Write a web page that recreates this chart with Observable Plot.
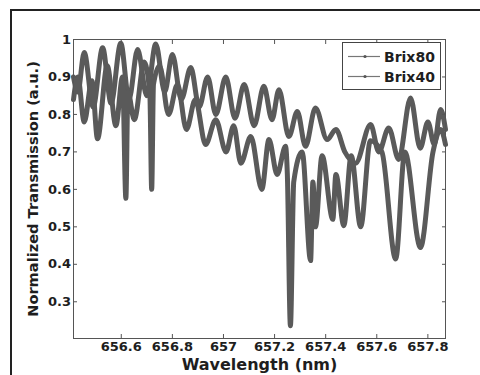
<!DOCTYPE html>
<html>
<head>
<meta charset="utf-8">
<script src="https://cdn.jsdelivr.net/npm/d3@7"></script>
<script src="https://cdn.jsdelivr.net/npm/@observablehq/plot@0.6"></script>
<style>
  html, body { margin: 0; padding: 0; background: #fff; overflow: hidden; }
  #wrap { position: relative; width: 480px; height: 375px; overflow: hidden; }
  #outer { position: absolute; left: 10px; top: 9px; width: 520px; height: 420px; border-left: 2px solid #222; border-top: 2px solid #222; pointer-events: none; }
  #legend { position: absolute; left: 342px; top: 42px; }
</style>
</head>
<body>
<div id="wrap">
  <div id="chart"></div>
  <div id="outer"></div>
  <div id="legend"></div>
</div>
<script>
// Series names (legend)
const seriesNames = ["Brix80", "Brix40"];

// Brix80: wavelength (nm) and normalized transmission
const brix80Wl = [656.413, 656.43, 656.455, 656.49, 656.527, 656.56, 656.598, 656.63, 656.664, 656.70,
  656.735, 656.77, 656.80, 656.835, 656.872, 656.905, 656.938, 656.97, 657.009, 657.045,
  657.081, 657.12, 657.158, 657.19, 657.217, 657.256, 657.289, 657.321, 657.36, 657.406,
  657.44, 657.475, 657.517, 657.576, 657.608, 657.647, 657.686, 657.732, 657.77, 657.80,
  657.825, 657.85, 657.869];
const brix80T = [0.90, 0.86, 0.965, 0.82, 0.978, 0.83, 0.99, 0.84, 0.973, 0.85,
  0.988, 0.86, 0.96, 0.84, 0.925, 0.82, 0.90, 0.80, 0.90, 0.79,
  0.88, 0.77, 0.875, 0.786, 0.866, 0.741, 0.808, 0.715, 0.817, 0.733,
  0.76, 0.70, 0.67, 0.773, 0.70, 0.764, 0.68, 0.844, 0.71, 0.78,
  0.72, 0.813, 0.76];

// Brix40: wavelength (nm) and normalized transmission
const brix40Wl = [656.413, 656.43, 656.455, 656.485, 656.507, 656.545, 656.579, 656.605, 656.618, 656.626,
  656.651, 656.69, 656.712, 656.719, 656.726, 656.75, 656.785, 656.82, 656.855, 656.89,
  656.93, 656.97, 657.01, 657.04, 657.068, 657.107, 657.15, 657.178, 657.21, 657.243,
  657.25, 657.262, 657.275, 657.308, 657.341, 657.35, 657.36, 657.386, 657.428, 657.44,
  657.471, 657.50, 657.537, 657.575, 657.62, 657.674, 657.71, 657.771, 657.82, 657.85,
  657.869];
const brix40T = [0.84, 0.90, 0.78, 0.89, 0.735, 0.93, 0.77, 0.90, 0.576, 0.86,
  0.786, 0.94, 0.85, 0.60, 0.88, 0.93, 0.80, 0.88, 0.76, 0.84,
  0.72, 0.786, 0.70, 0.77, 0.67, 0.741, 0.60, 0.733, 0.64, 0.715,
  0.64, 0.236, 0.62, 0.70, 0.41, 0.62, 0.50, 0.69, 0.52, 0.64,
  0.503, 0.69, 0.50, 0.73, 0.70, 0.414, 0.70, 0.445, 0.70, 0.76,
  0.72];

// Axis ticks and labels
const xTicks = [656.6, 656.8, 657.0, 657.2, 657.4, 657.6, 657.8];
const xTickLabels = ["656.6", "656.8", "657", "657.2", "657.4", "657.6", "657.8"];
const yTicks = [0.3, 0.4, 0.5, 0.6, 0.7, 0.8, 0.9, 1.0];
const yTickLabels = ["0.3", "0.4", "0.5", "0.6", "0.7", "0.8", "0.9", "1"];
const xTitle = "Wavelength (nm)";
const yTitle = "Normalized Transmission (a.u.)";

const data = [
  ...brix80Wl.map((w, i) => ({series: seriesNames[0], wl: w, t: brix80T[i]})),
  ...brix40Wl.map((w, i) => ({series: seriesNames[1], wl: w, t: brix40T[i]}))
];

const col = "#5a5a5a";
const font = "'DejaVu Sans', sans-serif";

const chart = Plot.plot({
  width: 480,
  height: 375,
  marginLeft: 73,
  marginTop: 39,
  marginRight: 35,
  marginBottom: 37,
  x: {domain: [656.413, 657.869]},
  y: {domain: [0.202, 1]},
  style: {fontFamily: font, fontWeight: "bold", fontSize: "13px", color: "#1e1e1e", background: "white"},
  marks: [
    Plot.line(data, {x: "wl", y: "t", z: "series", stroke: col, strokeWidth: 5, strokeLinejoin: "round", strokeLinecap: "round", curve: "monotone-x"}),
    Plot.frame({stroke: "#555", strokeWidth: 1}),
    Plot.axisX({anchor: "bottom", ticks: xTicks, tickSize: -4, tickPadding: 7.5,
      tickFormat: d => xTickLabels[xTicks.indexOf(d)], label: null, stroke: "#555"}),
    Plot.axisX({anchor: "top", ticks: xTicks, tickSize: -4, tickFormat: () => "", label: null, stroke: "#555"}),
    Plot.axisY({anchor: "left", ticks: yTicks, tickSize: -4, tickPadding: 6.5,
      tickFormat: d => yTickLabels[yTicks.indexOf(d)], label: null, stroke: "#555"}),
    Plot.axisY({anchor: "right", ticks: yTicks, tickSize: -4, tickFormat: () => "", label: null, stroke: "#555"}),
    Plot.text([xTitle], {frameAnchor: "bottom", dy: 31, fontSize: 16, fontWeight: "bold", fill: "#1e1e1e"}),
    Plot.text([yTitle], {frameAnchor: "left", dx: -40.5, rotate: -90, textAnchor: "middle", fontSize: 14.6, fontWeight: "bold", fill: "#1e1e1e"})
  ]
});
document.getElementById("chart").appendChild(chart);

// Legend (MATLAB-style box)
const lg = d3.select("#legend").append("svg").attr("width", 100).attr("height", 49)
  .style("font-family", font).style("font-weight", "bold");
lg.append("rect").attr("x", 0.5).attr("y", 0.5).attr("width", 98).attr("height", 47)
  .attr("fill", "white").attr("stroke", "#444");
seriesNames.forEach((name, i) => {
  const cy = 14.5 + i * 20;
  lg.append("line").attr("x1", 6).attr("x2", 38).attr("y1", cy).attr("y2", cy)
    .attr("stroke", "#777").attr("stroke-width", 1.2);
  lg.append("circle").attr("cx", 23).attr("cy", cy).attr("r", 1.6).attr("fill", "#555");
  lg.append("text").attr("x", 42).attr("y", cy + 5).attr("font-size", 14).attr("fill", "#1e1e1e").text(name);
});
</script>
</body>
</html>
